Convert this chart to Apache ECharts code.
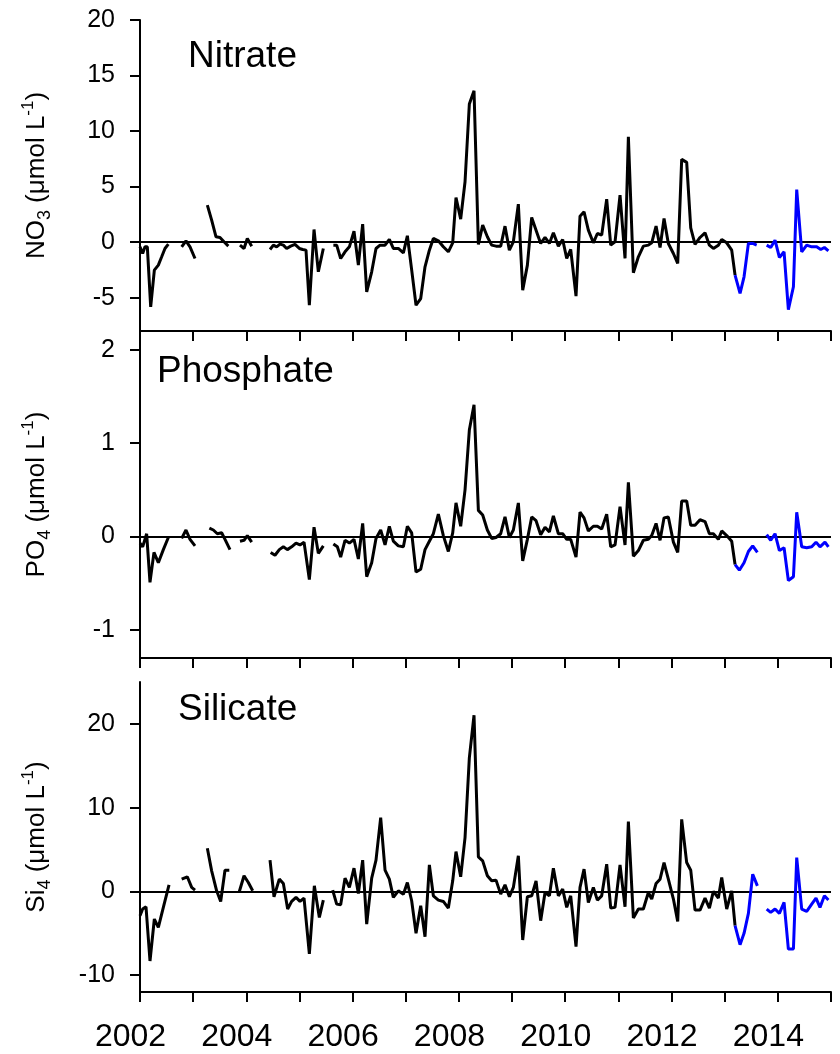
<!DOCTYPE html>
<html>
<head>
<meta charset="utf-8">
<script src="https://cdn.jsdelivr.net/npm/echarts@6/dist/echarts.min.js"></script>
<style>
html,body{margin:0;padding:0;background:#fff;}
#chart{width:840px;height:1054px;}
</style>
</head>
<body>
<div id="chart"></div>
<script>
// ---------- DATA ----------
const xTicks = [2002,2003,2004,2005,2006,2007,2008,2009,2010,2011,2012,2013,2014,2015];
const xLabelYears = [2002,2004,2006,2008,2010,2012,2014];
const nitrateTicks = [-5,0,5,10,15,20];
const phosphateTicks = [-1,0,1,2];
const silicateTicks = [-10,0,10,20];
const panelTitles = ['Nitrate','Phosphate','Silicate'];

// [decimal year, value]; null = gap in record
const nitrateBlack = [
[2002.000,-0.42],[2002.050,-1.02],[2002.094,-0.42],[2002.138,-0.42],[2002.201,-5.83],[2002.270,-2.52],[2002.345,-2.07],[2002.408,-1.32],[2002.470,-0.57],[2002.533,-0.18],
null,
[2002.784,-0.42],[2002.865,0.12],[2002.941,-0.42],[2003.035,-1.47],
null,
[2003.267,3.33],[2003.348,1.98],[2003.430,0.48],[2003.505,0.42],[2003.580,0.03],[2003.662,-0.36],
null,
[2003.881,-0.27],[2003.957,-0.57],[2004.019,0.33],[2004.101,-0.36],
null,
[2004.446,-0.66],[2004.509,-0.27],[2004.571,-0.42],[2004.634,-0.18],[2004.697,-0.27],[2004.759,-0.57],[2004.835,-0.36],[2004.916,-0.21],[2004.998,-0.57],[2005.061,-0.66],[2005.123,-0.72],[2005.186,-5.68],[2005.274,1.14],[2005.355,-2.67],[2005.449,-0.57],
null,
[2005.638,-0.27],[2005.700,-0.27],[2005.775,-1.47],[2005.857,-0.87],[2005.939,-0.42],[2006.026,0.99],[2006.108,-2.07],[2006.189,1.62],[2006.265,-4.47],[2006.359,-2.67],[2006.440,-0.57],[2006.516,-0.27],[2006.610,-0.27],[2006.691,0.24],[2006.766,-0.57],[2006.860,-0.57],
[2006.955,-0.96],[2007.030,0.57],[2007.111,-2.5],[2007.193,-5.68],[2007.281,-5.08],[2007.362,-2.22],[2007.444,-0.72],[2007.519,0.33],[2007.613,0.12],[2007.707,-0.42],[2007.801,-0.87],[2007.883,-0.06],[2007.945,4.02],[2008.033,2.07],[2008.115,5.44],[2008.196,12.43],[2008.284,13.63],[2008.366,-0.21],[2008.447,1.53],[2008.535,0.48],[2008.616,-0.27],[2008.698,-0.36],[2008.786,-0.36],[2008.867,1.44],[2008.949,-0.72],
[2009.024,0.03],[2009.118,3.42],[2009.200,-4.32],[2009.288,-2.07],[2009.369,2.22],[2009.451,1.08],[2009.538,-0.12],[2009.620,0.42],[2009.702,-0.12],[2009.777,0.84],[2009.871,-0.36],[2009.952,0.24],
[2010.028,-1.47],[2010.103,-0.66],[2010.203,-4.86],[2010.278,2.34],[2010.354,2.73],[2010.435,1.08],[2010.529,-0.06],[2010.605,0.78],[2010.686,0.63],[2010.780,3.87],[2010.856,-0.27],[2010.937,0.03],
[2011.031,4.23],[2011.125,-1.47],[2011.188,9.49],[2011.282,-2.76],[2011.376,-1.32],[2011.470,-0.36],[2011.564,-0.27],[2011.627,-0.06],[2011.709,1.44],[2011.784,-0.48],[2011.859,2.13],[2011.940,-0.12],
[2012.035,-1.02],[2012.116,-1.92],[2012.191,7.45],[2012.285,7.18],[2012.361,1.29],[2012.442,-0.21],[2012.536,0.42],[2012.630,0.84],[2012.712,-0.27],[2012.787,-0.57],[2012.881,-0.27],[2012.944,0.24],
[2013.038,-0.06],[2013.132,-0.72],[2013.195,-2.97]
];
const nitrateBlue = [
[2013.195,-2.97],[2013.289,-4.62],[2013.364,-3.12],[2013.446,-0.12],[2013.527,-0.12],[2013.602,-0.27],
null,
[2013.790,-0.27],[2013.866,-0.48],[2013.947,0.18],[2014.029,-1.38],[2014.117,-0.87],[2014.198,-6.07],[2014.293,-4.02],[2014.355,4.74],[2014.449,-0.87],[2014.543,-0.27],[2014.637,-0.42],[2014.731,-0.42],[2014.807,-0.66],[2014.876,-0.48],[2014.951,-0.78]
];

const phosphateBlack = [
[2002.000,-0.07],[2002.050,-0.11],[2002.125,0.03],[2002.188,-0.49],[2002.263,-0.17],[2002.345,-0.28],[2002.439,-0.14],[2002.533,-0.01],
null,
[2002.784,-0.02],[2002.865,0.07],[2002.941,-0.03],[2003.035,-0.10],
null,
[2003.305,0.09],[2003.380,0.07],[2003.455,0.03],[2003.536,0.04],[2003.599,-0.03],[2003.693,-0.14],
null,
[2003.881,-0.05],[2003.957,-0.04],[2004.019,0.01],[2004.101,-0.06],
null,
[2004.458,-0.17],[2004.540,-0.20],[2004.621,-0.14],[2004.697,-0.11],[2004.772,-0.14],[2004.853,-0.11],[2004.935,-0.07],[2005.010,-0.09],[2005.086,-0.06],[2005.186,-0.46],[2005.274,0.10],[2005.355,-0.18],[2005.449,-0.10],
null,
[2005.638,-0.08],[2005.713,-0.11],[2005.775,-0.22],[2005.857,-0.04],[2005.939,-0.07],[2006.026,-0.03],[2006.108,-0.24],[2006.189,0.14],[2006.265,-0.43],[2006.359,-0.28],[2006.440,-0.02],[2006.528,0.07],[2006.610,-0.09],[2006.691,0.11],[2006.766,-0.05],[2006.860,-0.10],
[2006.955,-0.11],[2007.030,0.11],[2007.111,0.04],[2007.193,-0.38],[2007.281,-0.35],[2007.362,-0.14],[2007.444,-0.05],[2007.519,0.03],[2007.613,0.24],[2007.707,0.01],[2007.801,-0.16],[2007.883,0.04],[2007.945,0.36],[2008.033,0.11],[2008.115,0.50],[2008.196,1.14],[2008.284,1.41],[2008.366,0.28],[2008.447,0.23],[2008.535,0.07],[2008.616,-0.02],[2008.698,-0.01],[2008.786,0.03],[2008.867,0.21],[2008.949,-0.01],
[2009.024,0.07],[2009.118,0.36],[2009.200,-0.26],[2009.288,-0.03],[2009.369,0.21],[2009.451,0.17],[2009.538,0.02],[2009.620,0.10],[2009.702,0.05],[2009.777,0.22],[2009.871,0.03],[2009.952,0.03],
[2010.028,-0.03],[2010.103,-0.03],[2010.203,-0.22],[2010.278,0.26],[2010.354,0.20],[2010.435,0.06],[2010.529,0.11],[2010.605,0.11],[2010.686,0.08],[2010.780,0.24],[2010.856,-0.11],[2010.937,-0.09],
[2011.031,0.32],[2011.125,-0.09],[2011.188,0.58],[2011.282,-0.21],[2011.376,-0.15],[2011.470,-0.04],[2011.564,-0.03],[2011.627,0.01],[2011.709,0.14],[2011.784,-0.04],[2011.859,0.20],[2011.940,0.21],
[2012.035,-0.06],[2012.116,-0.17],[2012.191,0.38],[2012.285,0.38],[2012.361,0.12],[2012.442,0.12],[2012.536,0.18],[2012.630,0.16],[2012.712,0.03],[2012.787,0.03],[2012.881,-0.03],[2012.944,0.06],
[2013.038,0.01],[2013.132,-0.05],[2013.195,-0.30]
];
const phosphateBlue = [
[2013.195,-0.30],[2013.276,-0.36],[2013.364,-0.28],[2013.446,-0.16],[2013.527,-0.10],[2013.615,-0.17],
null,
[2013.790,0.02],[2013.866,-0.04],[2013.947,0.03],[2014.029,-0.15],[2014.117,-0.12],[2014.198,-0.47],[2014.293,-0.43],[2014.355,0.26],[2014.449,-0.11],[2014.543,-0.12],[2014.637,-0.11],[2014.718,-0.06],[2014.793,-0.11],[2014.887,-0.06],[2014.951,-0.11]
];

const silicateBlack = [
[2002.000,-2.90],[2002.050,-2.10],[2002.113,-1.83],[2002.188,-8.30],[2002.270,-3.29],[2002.345,-4.29],[2002.439,-1.90],[2002.546,0.79],
null,
[2002.784,1.47],[2002.890,1.75],[2002.972,0.48],[2003.035,0.16],
null,
[2003.267,5.16],[2003.348,2.46],[2003.442,0.08],[2003.518,-1.19],[2003.599,2.54],[2003.680,2.54],
null,
[2003.869,0.00],[2003.957,1.87],[2004.038,1.07],[2004.120,0.08],
null,
[2004.446,3.73],[2004.521,-0.63],[2004.621,1.47],[2004.697,0.95],[2004.778,-2.10],[2004.853,-1.19],[2004.935,-0.71],[2005.010,-1.19],[2005.086,-0.79],[2005.186,-7.46],[2005.280,0.67],[2005.374,-3.10],[2005.449,-1.03],
null,
[2005.625,0.16],[2005.700,-1.51],[2005.775,-1.59],[2005.857,1.59],[2005.939,0.48],[2006.026,2.78],[2006.108,-0.24],[2006.189,3.73],[2006.265,-3.89],[2006.359,1.59],[2006.440,3.73],[2006.528,8.81],[2006.610,2.54],[2006.691,1.47],[2006.766,-0.71],[2006.860,0.08],
[2006.955,-0.32],[2007.030,1.07],[2007.111,-1.11],[2007.193,-5.00],[2007.281,-1.71],[2007.362,-5.40],[2007.444,3.17],[2007.519,-0.52],[2007.613,-1.03],[2007.707,-1.19],[2007.801,-1.98],[2007.883,1.27],[2007.945,4.76],[2008.033,1.75],[2008.115,6.43],[2008.196,15.95],[2008.284,21.03],[2008.366,4.13],[2008.447,3.65],[2008.535,1.87],[2008.616,1.27],[2008.698,1.35],[2008.786,-0.32],[2008.867,0.79],[2008.949,-0.63],
[2009.024,0.48],[2009.118,4.25],[2009.200,-5.79],[2009.288,-0.63],[2009.369,-0.52],[2009.451,1.27],[2009.538,-3.49],[2009.620,-0.12],[2009.702,-0.52],[2009.777,2.78],[2009.871,-0.52],[2009.952,0.28],
[2010.028,-1.90],[2010.103,-0.52],[2010.203,-6.59],[2010.278,0.48],[2010.354,2.66],[2010.435,-1.31],[2010.529,0.48],[2010.605,-1.03],[2010.686,-0.52],[2010.780,3.25],[2010.856,-1.98],[2010.937,-1.90],
[2011.031,3.17],[2011.125,-1.83],[2011.188,8.33],[2011.282,-3.17],[2011.376,-2.10],[2011.470,-2.10],[2011.564,-0.12],[2011.627,-0.91],[2011.709,0.95],[2011.784,1.47],[2011.859,3.45],[2011.940,1.47],
[2012.035,-0.91],[2012.116,-3.57],[2012.191,8.61],[2012.285,3.45],[2012.361,2.54],[2012.442,-2.22],[2012.536,-2.22],[2012.630,-0.79],[2012.712,-1.98],[2012.787,0.00],[2012.881,-0.79],[2012.944,1.67],
[2013.038,-2.10],[2013.132,0.08],[2013.195,-4.09]
];
const silicateBlue = [
[2013.195,-4.09],[2013.289,-6.35],[2013.364,-5.00],[2013.446,-2.62],[2013.527,2.06],[2013.615,0.67],
null,
[2013.790,-2.10],[2013.866,-2.50],[2013.947,-2.10],[2014.029,-2.62],[2014.117,-1.31],[2014.198,-6.87],[2014.293,-6.87],[2014.355,4.05],[2014.449,-2.10],[2014.543,-2.38],[2014.637,-1.51],[2014.718,-0.79],[2014.793,-1.90],[2014.876,-0.52],[2014.951,-1.03]
];

// ---------- CHART ----------
const FONT = '"Liberation Sans", Arial, Helvetica, sans-serif';
const toSeriesData = arr => arr.map(p => p === null ? ['-', '-'] : p);

const grids = [
  {left:140, width:691, top:20, height:311},
  {left:140, width:691, top:331, height:327},
  {left:140, width:691, top:682, height:310}
];
const yRanges = [
  {min:-8, max:20, ticks:nitrateTicks, name:'{t|NO}{sub|3}{t| (μmol L}{sup|-1}{t|)}'},
  {min:-1.3, max:2.2, ticks:phosphateTicks, name:'{t|PO}{sub|4}{t| (μmol L}{sup|-1}{t|)}'},
  {min:-12, max:25, ticks:silicateTicks, name:'{t|Si}{sub|4}{t| (μmol L}{sup|-1}{t|)}'}
];
const nameRich = {
  t:{fontSize:26, fontFamily:FONT, color:'#000', lineHeight:34, verticalAlign:'middle'},
  sub:{fontSize:18, fontFamily:FONT, color:'#000', lineHeight:18, verticalAlign:'bottom'},
  sup:{fontSize:17, fontFamily:FONT, color:'#000', lineHeight:17, verticalAlign:'top'}
};

const xAxes = grids.map((g, i) => ({
  type:'value', gridIndex:i, min:2002, max:2015,
  axisLine:{show:true, onZero:false, lineStyle:{color:'#000', width:2}},
  axisTick:{show:true, length:10, customValues:xTicks, lineStyle:{color:'#000', width:2}},
  axisLabel:{show:i===2, customValues:xLabelYears, formatter:v => String(v),
    fontSize:32, fontFamily:FONT, color:'#000', margin:29, padding:[0,19,0,0]},
  splitLine:{show:false}
}));
const yAxes = yRanges.map((r, i) => ({
  type:'value', gridIndex:i, min:r.min, max:r.max,
  name:r.name, nameLocation:'middle', nameRotate:90, nameGap:86,
  nameTextStyle:{rich:nameRich},
  axisLine:{show:true, onZero:false, lineStyle:{color:'#000', width:2}},
  axisTick:{show:true, length:10, customValues:r.ticks, lineStyle:{color:'#000', width:2}},
  axisLabel:{show:true, customValues:r.ticks, fontSize:25, fontFamily:FONT, color:'#000', margin:25},
  splitLine:{show:false}
}));

const blackSets = [nitrateBlack, phosphateBlack, silicateBlack];
const blueSets = [nitrateBlue, phosphateBlue, silicateBlue];
const series = [];
blackSets.forEach((d, i) => {
  series.push({
    type:'line', xAxisIndex:i, yAxisIndex:i, data:toSeriesData(d),
    showSymbol:false, symbol:'none', connectNulls:false,
    lineStyle:{color:'#000', width:3}, z:3,
    markLine:{silent:true, symbol:['none','none'], label:{show:false},
      lineStyle:{color:'#000', width:2, type:'solid'}, data:[{yAxis:0}], z:2}
  });
});
blueSets.forEach((d, i) => {
  series.push({
    type:'line', xAxisIndex:i, yAxisIndex:i, data:toSeriesData(d),
    showSymbol:false, symbol:'none', connectNulls:false,
    lineStyle:{color:'#0000ff', width:3}, z:4
  });
});

const titlePos = [{x:188, y:59}, {x:157, y:374}, {x:178, y:712}];
const graphic = panelTitles.map((t, i) => ({
  type:'text', left:titlePos[i].x, top:titlePos[i].y - 21, silent:true,
  style:{text:t, font:'37px ' + FONT, fill:'#000'}
}));

const chart = echarts.init(document.getElementById('chart'), null, {renderer:'canvas'});
chart.setOption({
  animation:false,
  backgroundColor:'#fff',
  grid:grids,
  xAxis:xAxes,
  yAxis:yAxes,
  series:series,
  graphic:graphic
});
</script>
</body>
</html>
